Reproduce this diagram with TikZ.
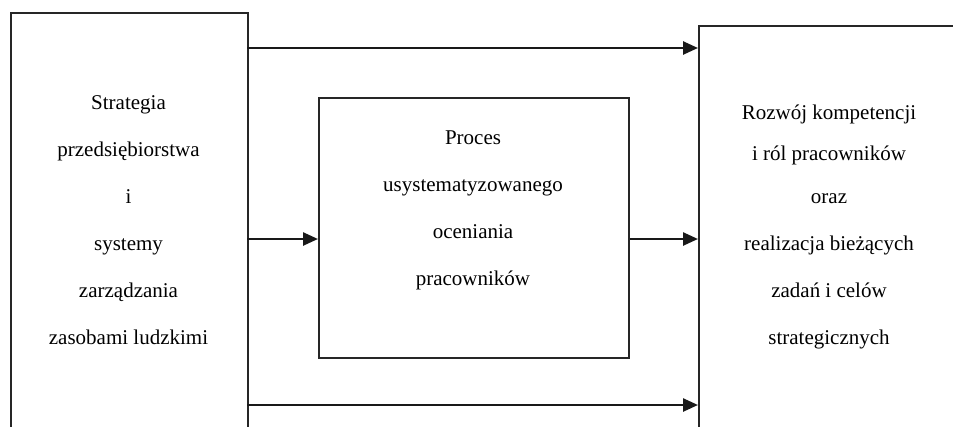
\documentclass[tikz,border=0pt]{standalone}
\usepackage{fontspec}
\setmainfont{Liberation Serif}
\usetikzlibrary{arrows.meta}
\begin{document}
\begin{tikzpicture}[x=1pt,y=-1pt,
  boxline/.style={draw=black!85, line width=1.8pt},
  flow/.style={draw=black!90, line width=2.5pt, -{Triangle[length=15pt,width=13pt]}},
  txt/.style={align=center, font=\fontsize{21}{47}\selectfont, inner sep=0pt}]
\useasboundingbox (0,0) rectangle (953,426);
\clip (0,0) rectangle (953,426);
\fill[white] (0,0) rectangle (953,426);
% boxes (left and right extend beyond the picture)
\node[boxline, minimum width=237pt, minimum height=460pt, anchor=north west, inner sep=0pt] (L) at (10,12) {};
\node[boxline, minimum width=300pt, minimum height=460pt, anchor=north west, inner sep=0pt] (R) at (698,25) {};
\node[boxline, minimum width=310pt, minimum height=260pt, anchor=north west, inner sep=0pt] (M) at (318,97) {};
% texts
\node[txt] (Lt) at (128.5,220) {Strategia\\przedsiębiorstwa\\i\\systemy\\zarządzania\\zasobami ludzkimi};
\node[txt] (Mt) at (473,210) {Proces\\usystematyzowanego\\oceniania\\pracowników};
\node[txt] (Rt) at (829,226.5) {Rozwój kompetencji\\[-6pt]i ról pracowników\\[-4pt]oraz\\realizacja bieżących\\zadań i celów\\strategicznych};
% connectors
\coordinate (a1) at (247,48);
\coordinate (a2) at (247,239);
\coordinate (a3) at (247,405);
\draw[flow] (a1) -- (R.west |- a1);
\draw[flow] (a2) -- (M.west |- a2);
\draw[flow] (M.east |- a2) -- (R.west |- a2);
\draw[flow] (a3) -- (R.west |- a3);
\end{tikzpicture}
\end{document}
